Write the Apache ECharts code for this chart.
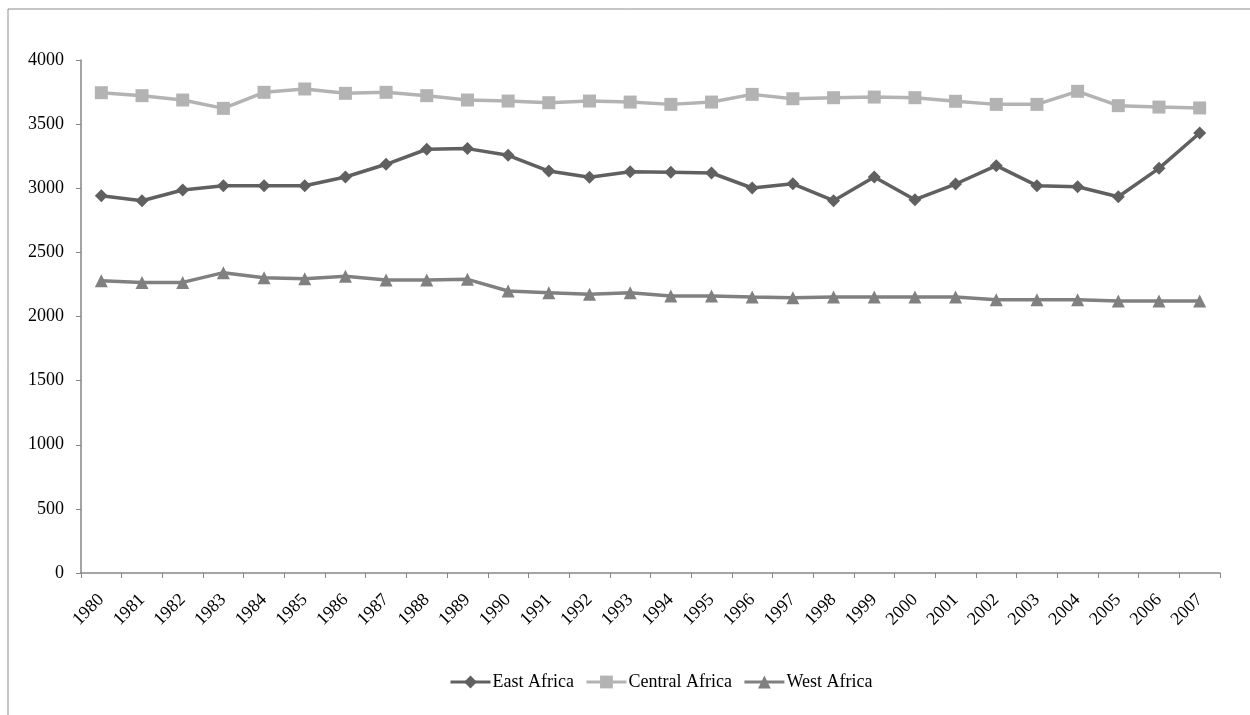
<!DOCTYPE html>
<html><head><meta charset="utf-8">
<script src="https://cdn.jsdelivr.net/npm/echarts@6/dist/echarts.min.js"></script>
<style>html,body{margin:0;padding:0;background:#fff}#c{width:1250px;height:715px}</style>
</head><body><div id="c"></div>
<script>
const years = ['1980','1981','1982','1983','1984','1985','1986','1987','1988','1989','1990','1991','1992','1993','1994','1995','1996','1997','1998','1999','2000','2001','2002','2003','2004','2005','2006','2007'];
const eastAfrica = [2942,2903,2986,3020,3020,3020,3088,3187,3304,3309,3257,3134,3085,3129,3124,3119,3002,3035,2903,3088,2911,3033,3176,3020,3012,2934,3155,3431];
const centralAfrica = [3745,3722,3688,3623,3748,3774,3740,3748,3722,3688,3680,3667,3680,3672,3654,3672,3732,3698,3706,3711,3706,3678,3654,3654,3756,3644,3633,3626];
const westAfrica = [2279,2266,2266,2342,2303,2295,2313,2285,2285,2290,2199,2186,2173,2186,2160,2160,2152,2147,2152,2152,2152,2152,2131,2131,2131,2121,2121,2121];
const yTicks = {min:0, max:4000, interval:500};

const font = 'Liberation Serif';
const axisColor = '#868686';
const chart = echarts.init(document.getElementById('c'));
function mk(name, data, color, symbol, size){
  return {name, type:'line', data, symbol, symbolSize:size, showSymbol:true,
    lineStyle:{color, width:3.5}, itemStyle:{color, borderWidth:0}, z: 3, animation:false};
}
chart.setOption({
  animation:false,
  graphic:[{type:'rect', shape:{x:8,y:9,width:1300,height:800}, style:{fill:'none', stroke:'#8c8c8c', lineWidth:1}, silent:true}],
  grid:{left:81, right:30, top:60, bottom:142},
  xAxis:{type:'category', data:years, boundaryGap:true,
    axisLine:{lineStyle:{color:axisColor, width:1.5}},
    axisTick:{show:true, length:5, lineStyle:{color:axisColor}},
    axisLabel:{rotate:45, margin:24, color:'#000', fontFamily:font, fontSize:18, interval:0},
  },
  yAxis:{type:'value', min:yTicks.min, max:yTicks.max, interval:yTicks.interval,
    axisLine:{show:true, lineStyle:{color:axisColor, width:1.5}},
    axisTick:{show:true, length:5, lineStyle:{color:axisColor}},
    splitLine:{show:false},
    axisLabel:{color:'#000', fontFamily:font, fontSize:18, margin:17, formatter: v => String(v)}
  },
  legend:{top:668, left:444, itemWidth:40, itemHeight:16, itemGap:11,
    lineStyle:{width:3},
    textStyle:{fontFamily:font, fontSize:18, color:'#000', padding:[0,0,0,-3]},
    data:['East Africa','Central Africa','West Africa']},
  series:[
    mk('East Africa', eastAfrica, '#606060', 'diamond', 13),
    mk('Central Africa', centralAfrica, '#b3b3b3', 'rect', 13),
    mk('West Africa', westAfrica, '#808080', 'triangle', 13)
  ]
});
</script></body></html>
